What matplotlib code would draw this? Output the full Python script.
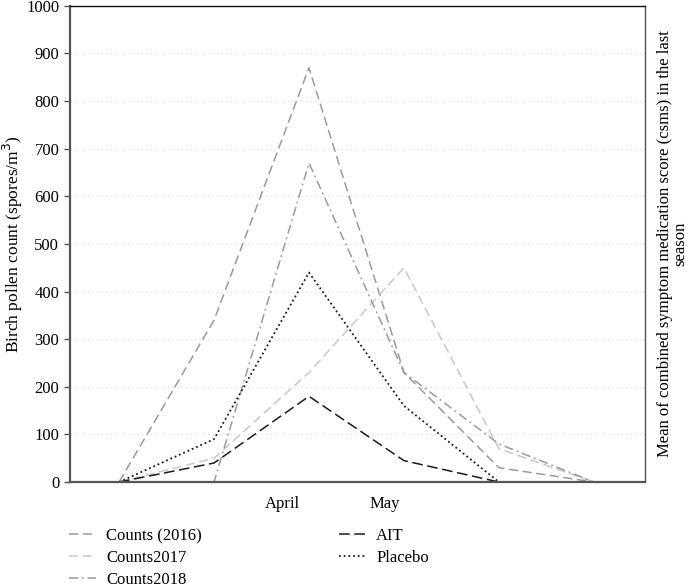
import matplotlib.pyplot as plt

plt.rcParams['font.family'] = ['Liberation Serif', 'DejaVu Serif']

points = [0, 1, 2, 3, 4, 5]
counts_2016 = [0, 340, 870, 230, 30, 0]
counts_2017 = [0, 50, 230, 450, 70, 0]
counts_2018 = [0, 0, 670, 230, 80, 0]
ait = [0, 40, 180, 45, 0, 0]
placebo = [0, 90, 440, 160, 0, 0]

month_pos = [1.72, 2.8]
month_labels = ['April', 'May']


def main():
    fig = plt.figure(figsize=(6.9, 5.85), dpi=100)
    ax = fig.add_axes([0.101, 0.176, 0.834, 0.814])

    ax.plot(points, counts_2016, color='#9a9a9a', lw=1.1, dashes=(6, 3), label='Counts (2016)')
    ax.plot(points, counts_2017, color='#c8c8c8', lw=1.1, dashes=(6, 3), label='Counts2017')
    ax.plot(points, counts_2018, color='#9a9a9a', lw=1.1, dashes=(6, 2.5, 1.2, 2.5), label='Counts2018')
    ax.plot(points, ait, color='#1a1a1a', lw=1.1, dashes=(7, 3), label='AIT')
    ax.plot(points, placebo, color='#1a1a1a', lw=1.3, dashes=(1, 1.6), label='Placebo')

    ax.set_xlim(-0.52, 5.54)
    ax.set_ylim(0, 1000)
    ax.set_yticks(range(0, 1001, 100))
    ax.set_xticks(month_pos)
    ax.set_xticklabels(month_labels)
    ax.tick_params(axis='x', length=0, pad=10, labelsize=12)
    ax.tick_params(axis='y', length=4, width=1, color='#555555', labelsize=12)

    ax.yaxis.grid(True, color='#d5d5d5', linestyle=(0, (1, 3)), lw=0.8)
    ax.set_axisbelow(True)

    ax.spines['left'].set_color('#555555')
    ax.spines['left'].set_linewidth(1.6)
    ax.spines['bottom'].set_color('#555555')
    ax.spines['bottom'].set_linewidth(1.6)
    ax.spines['top'].set_color('#111111')
    ax.spines['top'].set_linewidth(1.0)
    ax.spines['right'].set_color('#555555')
    ax.spines['right'].set_linewidth(1.0)

    ax.set_ylabel('Birch pollen count (spores/m$^3$)', fontsize=12.5, labelpad=1)

    fig.text(0.975, 0.176 + 0.814 / 2,
             'Mean of combined symptom medication score (csms) in the last\nseason',
             rotation=90, ha='center', va='center', fontsize=12, linespacing=0.95,
             multialignment='center')

    fig.legend(loc='upper left', bbox_to_anchor=(0.078, 0.123), ncol=2, frameon=False,
               fontsize=12, handlelength=1.65, handletextpad=0.6, columnspacing=8.2,
               labelspacing=0.35)

    plt.savefig('out.png', dpi=100)


if __name__ == "__main__":
    main()
